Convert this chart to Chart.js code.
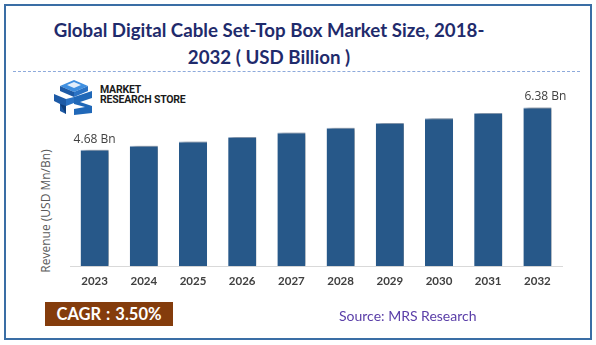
<!DOCTYPE html>
<html>
<head>
<meta charset="utf-8">
<script src="https://cdn.jsdelivr.net/npm/chart.js@4/dist/chart.umd.min.js"></script>
<style>
  html, body { margin: 0; padding: 0; background: #ffffff; }
  body { width: 596px; height: 345px; position: relative; overflow: hidden; font-family: Lato, "Open Sans", sans-serif; }
  #frame { position: absolute; left: 4px; top: 4px; width: 584px; height: 332px; border: 2px solid #3a6ea5; }
  #title { position: absolute; left: 269px; top: 17px; transform: translateX(-50%); text-align: center; white-space: nowrap;
           font: bold 18.7px Lato, sans-serif; color: #1f2b6c; line-height: 26.5px; }
  #rule { position: absolute; left: 13px; width: 567px; top: 71px; border-top: 1px dashed #8eaadb; }
  #logo { position: absolute; left: 52px; top: 78px; }
  #brand { position: absolute; left: 100px; top: 85px; font: bold 10.5px Roboto, sans-serif; color: #1b1b1b; line-height: 10px; letter-spacing: -0.2px; }
  #ytitle { position: absolute; left: 45px; top: 211px; transform: translate(-50%, -50%) rotate(-90deg);
            white-space: nowrap; font: 12px "Open Sans", sans-serif; color: #595959; }
  #cagr { position: absolute; left: 45px; top: 302px; width: 128px; height: 24px; background: #843c0c;
          color: #ffffff; font: bold 16.5px Lato, sans-serif; line-height: 24px; text-align: center; word-spacing: 1px; }
  #source { position: absolute; left: 339px; top: 307px; font: 14px Lato, sans-serif; color: #5a3ea8; }
  #chart { position: absolute; left: 0; top: 0; }
</style>
</head>
<body>
<div id="frame"></div>
<div id="title">Global Digital Cable Set-Top Box Market Size, 2018-<br>2032 ( USD Billion )</div>
<div id="rule"></div>
<svg id="logo" width="42" height="38" viewBox="0 0 42 38">
  <polygon points="8,8 22,2 36,8 22,14" fill="#3f8fe0"/>
  <polygon points="8,8 22,14 22,19 8,13" fill="#1d5aa6"/>
  <polygon points="22,14 36,8 36,13 22,19" fill="#2a72c4"/>
  <polygon points="15,7 22,4 29,7 22,10" fill="#ffffff" opacity="0.85"/>
  <polygon points="2,16 14,21 14,36 8,33 8,26 2,23" fill="#1d5aa6"/>
  <polygon points="14,21 22,19 22,25 14,28" fill="#2a72c4"/>
  <polygon points="22,19 40,13 40,20 28,24 40,28 40,35 22,37 22,31 33,29 22,26" fill="#2068b8"/>
  <polygon points="8,26 14,28 14,36" fill="#0f3f7c"/>
</svg>
<div id="brand">MARKET<br>RESEARCH STORE</div>
<div id="ytitle">Revenue (USD Mn/Bn)</div>
<canvas id="chart" width="596" height="345"></canvas>
<div id="cagr">CAGR : 3.50%</div>
<div id="source">Source: MRS Research</div>

<script>
// Market size by year, USD billion
const years = ['2023', '2024', '2025', '2026', '2027', '2028', '2029', '2030', '2031', '2032'];
const revenue = [4.68, 4.84, 5.01, 5.19, 5.37, 5.56, 5.75, 5.95, 6.16, 6.38];
// Value callouts shown only on the first and last bar
const labelled = [0, 9];
const labelShift = [0, 8];

// Soft drop shadow to the right of each bar
const barShadow = {
  id: 'barShadow',
  beforeDatasetDraw(chart) {
    const ctx = chart.ctx;
    ctx.save();
    ctx.shadowColor = 'rgba(0,0,0,0.45)';
    ctx.shadowBlur = 4;
    ctx.shadowOffsetX = 4;
    ctx.shadowOffsetY = 0;
  },
  afterDatasetDraw(chart) {
    chart.ctx.restore();
  }
};

// "x.xx Bn" labels above selected bars
const valueLabels = {
  id: 'valueLabels',
  afterDatasetsDraw(chart) {
    const ctx = chart.ctx;
    const meta = chart.getDatasetMeta(0);
    ctx.save();
    ctx.font = '12px "Open Sans", sans-serif';
    ctx.fillStyle = '#404040';
    ctx.textAlign = 'center';
    ctx.textBaseline = 'middle';
    labelled.forEach((i, k) => {
      const bar = meta.data[i];
      ctx.fillText(revenue[i].toFixed(2) + ' Bn', bar.x + labelShift[k], bar.y - 10.5);
    });
    ctx.restore();
  }
};

new Chart(document.getElementById('chart'), {
  type: 'bar',
  data: {
    labels: years,
    datasets: [{
      data: revenue,
      backgroundColor: '#275889',
      borderColor: '#9db4cf',
      borderWidth: { top: 1, left: 0, right: 0, bottom: 0 },
      borderSkipped: 'bottom',
      categoryPercentage: 1,
      barPercentage: 0.57
    }]
  },
  options: {
    responsive: false,
    animation: false,
    layout: { padding: { left: 70, right: 34, top: 92, bottom: 49 } },
    plugins: { legend: { display: false }, tooltip: { enabled: false } },
    scales: {
      x: {
        grid: { display: false, drawTicks: false },
        border: { display: true, color: '#d9d9d9', width: 1 },
        ticks: { color: '#404040', font: { family: 'Lato', weight: 'bold', size: 11.5 }, padding: 8 }
      },
      y: {
        display: false,
        min: 0,
        max: 7
      }
    }
  },
  plugins: [barShadow, valueLabels]
});
</script>
</body>
</html>
